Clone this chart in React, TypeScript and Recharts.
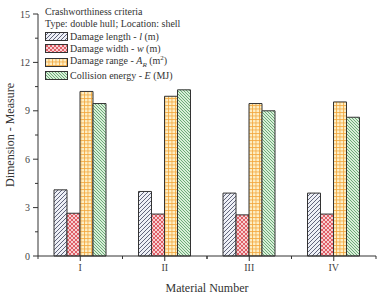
import React from 'react'
import { BarChart, Bar, XAxis, YAxis, Legend } from 'recharts'

const materials = ['I', 'II', 'III', 'IV']
const damageLength = [4.1, 4.0, 3.9, 3.9]
const damageWidth = [2.65, 2.6, 2.55, 2.6]
const damageRange = [10.2, 9.9, 9.45, 9.55]
const collisionEnergy = [9.45, 10.3, 9.0, 8.6]

const yTicks = [0, 1.5, 3, 4.5, 6, 7.5, 9, 10.5, 12, 13.5, 15]
const yLabels = [0, 3, 6, 9, 12, 15]

const FONT = '"Liberation Serif", "Times New Roman", serif'
const AXIS_X = 38
const AXIS_Y = 256
const BAND = (376 - 38) / materials.length

const data = materials.map((name, i) => ({
  name,
  length: damageLength[i],
  width: damageWidth[i],
  range: damageRange[i],
  energy: collisionEnergy[i]
}))

const series = [
  { key: 'length', fill: 'url(#patLength)' },
  { key: 'width', fill: 'url(#patWidth)' },
  { key: 'range', fill: 'url(#patRange)' },
  { key: 'energy', fill: 'url(#patEnergy)' }
]

const Patterns = () => (
  <svg width={0} height={0} style={{ position: 'absolute' }}>
    <defs>
      <pattern id="patLength" patternUnits="userSpaceOnUse" width={4} height={4}>
        <rect width={4} height={4} fill="#eef0f6" />
        <path d="M-1,1 l2,-2 M0,4 l4,-4 M3,5 l2,-2" stroke="#50556e" strokeWidth={0.9} />
      </pattern>
      <pattern id="patWidth" patternUnits="userSpaceOnUse" width={4} height={4}>
        <rect width={4} height={4} fill="#f7d0d2" />
        <path d="M-1,1 l2,-2 M0,4 l4,-4 M3,5 l2,-2 M-1,3 l2,2 M0,0 l4,4 M3,-1 l2,2" stroke="#d9434b" strokeWidth={0.8} />
      </pattern>
      <pattern id="patRange" patternUnits="userSpaceOnUse" width={3.5} height={3.5}>
        <rect width={3.5} height={3.5} fill="#fdf0c8" />
        <path d="M0,0.5 h3.5 M0.5,0 v3.5" stroke="#f2a43a" strokeWidth={0.8} />
      </pattern>
      <pattern id="patEnergy" patternUnits="userSpaceOnUse" width={3} height={3}>
        <rect width={3} height={3} fill="#d9eed9" />
        <path d="M-1,2 l2,2 M0,0 l3,3 M2,-1 l2,2" stroke="#4f9a5e" strokeWidth={0.8} />
      </pattern>
    </defs>
  </svg>
)

const YTick = (props: any) => {
  const { y, payload } = props
  const major = yLabels.includes(payload.value)
  return (
    <g>
      <line x1={AXIS_X} x2={AXIS_X - (major ? 5 : 3)} y1={y} y2={y} stroke="#333" />
      {major && (
        <text x={AXIS_X - 8} y={y} dy={3.5} textAnchor="end" fontSize={10} fill="#444" fontFamily={FONT}>
          {payload.value}
        </text>
      )}
    </g>
  )
}

const XTick = (props: any) => {
  const { x, payload } = props
  const half = BAND / 2
  return (
    <g>
      <line x1={x} x2={x} y1={AXIS_Y} y2={AXIS_Y + 5} stroke="#333" />
      <line x1={x - half} x2={x - half} y1={AXIS_Y} y2={AXIS_Y + 3} stroke="#333" />
      <line x1={x + half} x2={x + half} y1={AXIS_Y} y2={AXIS_Y + 3} stroke="#333" />
      <text x={x} y={AXIS_Y + 15} textAnchor="middle" fontSize={10} fill="#444" fontFamily={FONT}>
        {payload.value}
      </text>
    </g>
  )
}

const Swatch = ({ fill }: { fill: string }) => (
  <svg width={23} height={9} style={{ verticalAlign: 'middle', marginRight: 2 }}>
    <rect x={0.5} y={0.5} width={22} height={8} fill={fill} stroke="#333" />
  </svg>
)

const legendRows = [
  <>Damage length - <i>l</i> (m)</>,
  <>Damage width - <i>w</i> (m)</>,
  <>Damage range - <i>A</i><sub style={{ fontSize: 7 }}><i>R</i></sub> (m<sup style={{ fontSize: 7 }}>2</sup>)</>,
  <>Collision energy - <i>E</i> (MJ)</>
]

const renderLegend = () => (
  <div style={{ fontFamily: FONT, fontSize: 10, color: '#333', lineHeight: '11.5px', textAlign: 'left' }}>
    <div>Crashworthiness criteria</div>
    <div style={{ marginBottom: 1 }}>Type: double hull; Location: shell</div>
    {series.map((s, i) => (
      <div key={s.key} style={{ height: i === 2 ? 14 : 12.5, display: 'flex', alignItems: 'center' }}>
        <Swatch fill={s.fill} />
        <span>{legendRows[i]}</span>
      </div>
    ))}
  </div>
)

export default function App() {
  return (
    <div style={{ position: 'absolute', left: 0, top: 0, width: 380, height: 294, background: '#fff' }}>
      <Patterns />
      <BarChart
        width={380}
        height={294}
        data={data}
        margin={{ top: 14, right: 4, left: 0, bottom: 0 }}
        barCategoryGap={16}
        barGap={0}
      >
        <XAxis
          dataKey="name"
          height={38}
          axisLine={{ stroke: '#333' }}
          tickLine={false}
          tick={<XTick />}
          interval={0}
          label={{ value: 'Material Number', position: 'insideBottom', offset: 2, fontSize: 12, fill: '#333', fontFamily: FONT }}
        />
        <YAxis
          width={38}
          domain={[0, 15]}
          ticks={yTicks}
          interval={0}
          axisLine={{ stroke: '#333' }}
          tickLine={false}
          tick={<YTick />}
          label={{
            value: 'Dimension - Measure',
            angle: -90,
            position: 'insideLeft',
            offset: 10,
            fontSize: 12,
            fill: '#333',
            fontFamily: FONT,
            style: { textAnchor: 'middle' }
          }}
        />
        <Legend
          layout="horizontal"
          verticalAlign="middle"
          align="center"
          content={renderLegend}
          wrapperStyle={{ position: 'absolute', left: 45, top: 6, width: 'auto' }}
        />
        {series.map((s) => (
          <Bar key={s.key} dataKey={s.key} fill={s.fill} stroke="#333" strokeWidth={1} isAnimationActive={false} />
        ))}
      </BarChart>
    </div>
  )
}
